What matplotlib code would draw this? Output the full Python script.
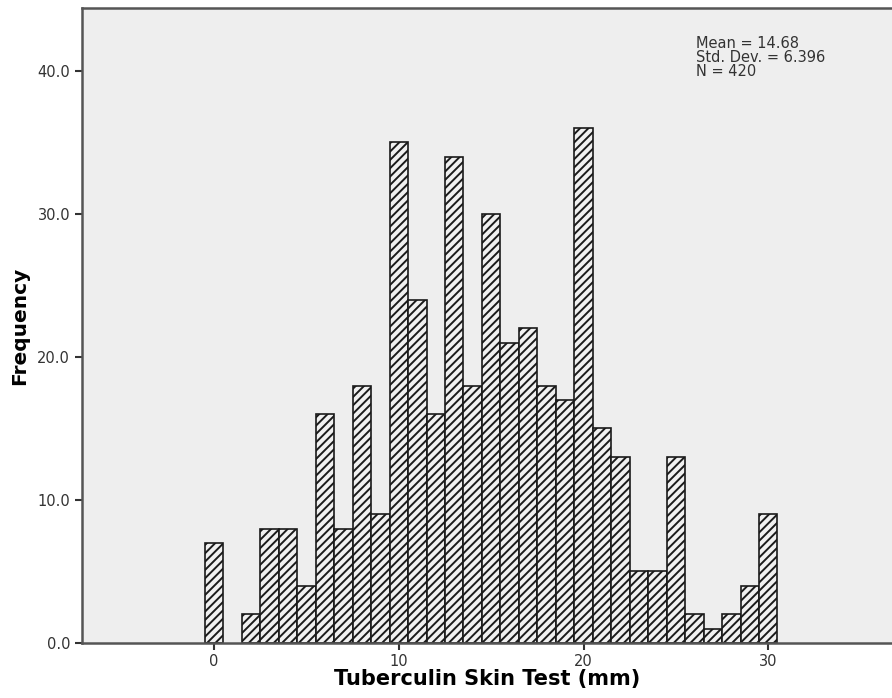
import matplotlib
matplotlib.use("Agg")
import matplotlib.pyplot as plt

# Data (bin centre in mm, frequency)
mm_values = [0, 2, 3, 4, 5, 6, 7, 8, 9, 10, 11, 12, 13, 14, 15, 16, 17, 18, 19,
             20, 21, 22, 23, 24, 25, 26, 27, 28, 29, 30]
frequencies = [7, 2, 8, 8, 4, 16, 8, 18, 9, 35, 24, 16, 34, 18, 30, 21, 22, 18, 17,
               36, 15, 13, 5, 5, 13, 2, 1, 2, 4, 9]
y_ticks = [0, 10, 20, 30, 40]
x_ticks = [0, 10, 20, 30]
stats_text = "Mean = 14.68\nStd. Dev. = 6.396\nN = 420"

plt.rcParams['hatch.linewidth'] = 1.4
plt.rcParams['hatch.color'] = '#2a2a2a'

fig = plt.figure(figsize=(8.92, 6.98), dpi=100)
fig.patch.set_facecolor('white')
ax = fig.add_axes([82/892, 55/698, 1 - 82/892, 635/698])
ax.set_facecolor('#eeeeee')

ax.bar(mm_values, frequencies, width=1.0, align='center',
       facecolor='#f0f0f0', edgecolor='#1a1a1a', linewidth=1.2, hatch='////')

ax.set_xlim(-7.15, 36.7)
ax.set_ylim(0, 44.4)
ax.set_yticks(y_ticks)
ax.set_yticklabels([f"{v:.1f}" for v in y_ticks])
ax.set_xticks(x_ticks)
ax.set_xticklabels([str(v) for v in x_ticks])

for side in ['left', 'top', 'bottom']:
    ax.spines[side].set_color('#555555')
    ax.spines[side].set_linewidth(1.8)
ax.spines['right'].set_visible(False)

ax.tick_params(axis='both', colors='#333333', labelsize=10.5, width=1.5, length=5)
ax.tick_params(axis='x', pad=3)

ax.set_ylabel('Frequency', fontsize=14.5, fontweight='bold', labelpad=6)
ax.set_xlabel('Tuberculin Skin Test (mm)', fontsize=15, fontweight='bold', labelpad=0)

ax.text(696/892, 1 - 36/698, stats_text, transform=fig.transFigure,
        fontsize=10.5, color='#333333', va='top', ha='left', linespacing=0.92)

fig.savefig('out.png', dpi=100)
